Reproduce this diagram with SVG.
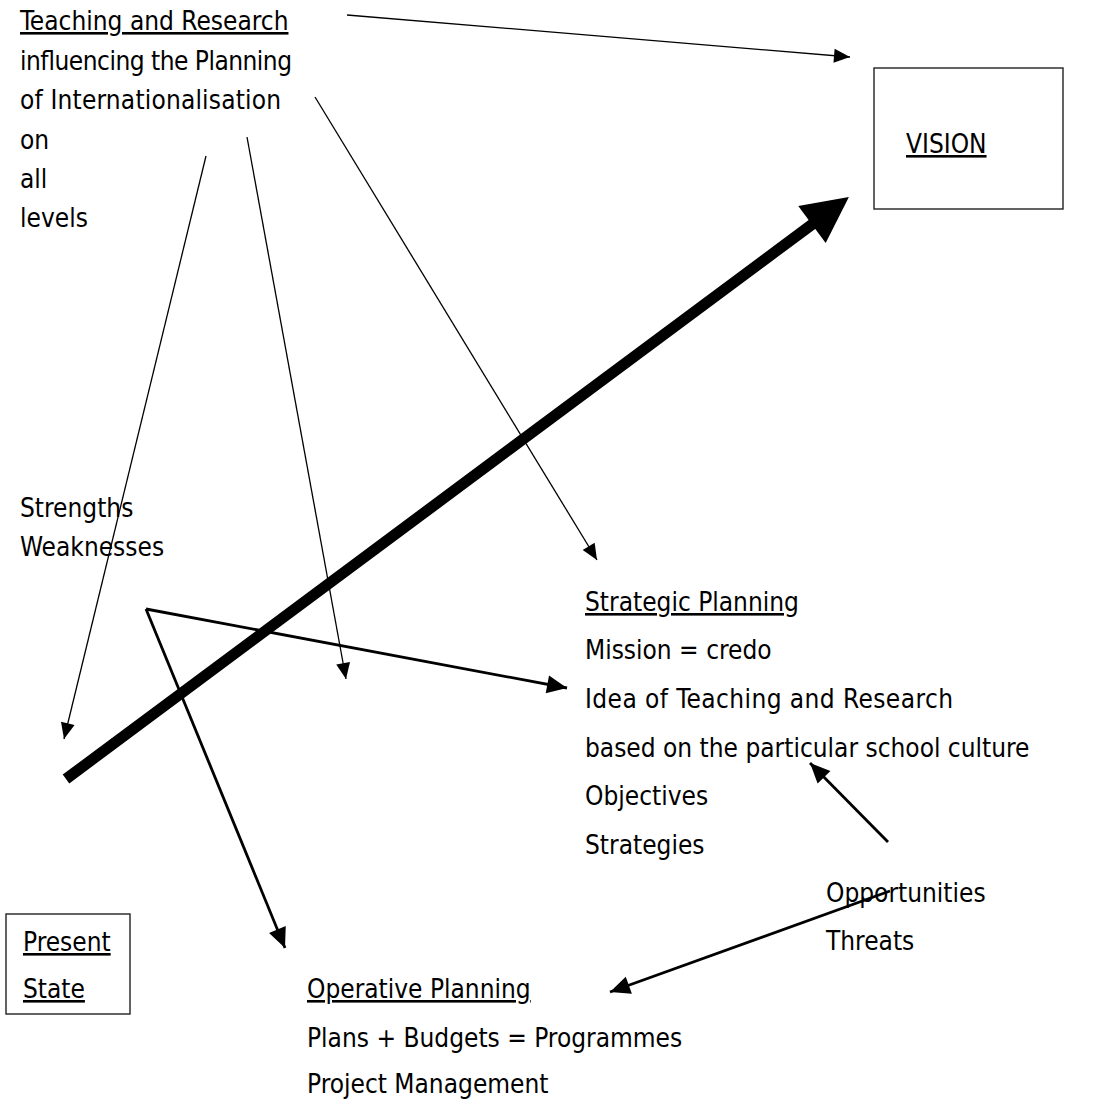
<svg xmlns="http://www.w3.org/2000/svg" width="1099" height="1103" viewBox="0 0 1099 1103">
  <style>
    text { font-family: "DejaVu Sans Condensed", "DejaVu Sans", sans-serif; font-stretch: condensed; font-size: 26px; fill: #000; }
    .u { text-decoration: underline; }
    .box { fill: #fff; stroke: #222; stroke-width: 1.4; }
    .thin { fill: none; stroke: #000; stroke-width: 1.3; marker-end: url(#headThin); }
    .mid { fill: none; stroke: #000; stroke-width: 2.8; marker-end: url(#headMid); }
    .thick { fill: none; stroke: #000; stroke-width: 11; marker-end: url(#headThick); }
  </style>
  <defs>
    <marker id="headThin" markerUnits="userSpaceOnUse" orient="auto" markerWidth="20" markerHeight="16" refX="16" refY="7" overflow="visible">
      <path d="M0,0 L16,7 L0,14 z" fill="#000"/>
    </marker>
    <marker id="headMid" markerUnits="userSpaceOnUse" orient="auto" markerWidth="24" markerHeight="20" refX="20" refY="9" overflow="visible">
      <path d="M0,0 L20,9 L0,18 z" fill="#000"/>
    </marker>
    <marker id="headThick" markerUnits="userSpaceOnUse" orient="auto" markerWidth="50" markerHeight="50" refX="10" refY="23" overflow="visible">
      <path d="M0,0 L46,23 L0,46 z" fill="#000"/>
    </marker>
  </defs>

  <rect width="1099" height="1103" fill="#fff"/>

  <!-- connectors -->
  <g id="connectors">
    <line class="thin" x1="347" y1="15" x2="850" y2="57"/>
    <line class="thin" x1="315" y1="97" x2="597" y2="560"/>
    <line class="thin" x1="247" y1="137" x2="346" y2="679"/>
    <line class="thin" x1="206" y1="156" x2="64" y2="739"/>
    <line class="thick" x1="66" y1="779" x2="820" y2="218.5"/>
    <line class="mid" x1="146" y1="609" x2="567" y2="688"/>
    <line class="mid" x1="146" y1="609" x2="285" y2="948"/>
    <line class="mid" x1="888" y1="842" x2="810" y2="763"/>
    <line class="mid" x1="890" y1="891" x2="610" y2="992"/>
  </g>

  <!-- influence of teaching and research -->
  <g id="teaching-research">
    <text x="20" y="30" class="u">Teaching and Research</text>
    <text x="20" y="69.5" textLength="272">influencing the Planning</text>
    <text x="20" y="109" textLength="261">of Internationalisation</text>
    <text x="20" y="148.5">on</text>
    <text x="20" y="188">all</text>
    <text x="20" y="227">levels</text>
  </g>

  <!-- vision -->
  <g id="vision">
    <rect class="box" x="874" y="68" width="189" height="141"/>
    <text x="906" y="153" class="u">VISION</text>
  </g>

  <!-- internal analysis -->
  <g id="strengths-weaknesses">
    <text x="20" y="517">Strengths</text>
    <text x="20" y="556">Weaknesses</text>
  </g>

  <!-- strategic level -->
  <g id="strategic-planning">
    <text x="585" y="611" class="u">Strategic Planning</text>
    <text x="585" y="659">Mission = credo</text>
    <text x="585" y="708" textLength="368">Idea of Teaching and Research</text>
    <text x="585" y="757">based on the particular school culture</text>
    <text x="585" y="805">Objectives</text>
    <text x="585" y="854">Strategies</text>
  </g>

  <!-- external analysis -->
  <g id="opportunities-threats">
    <text x="826" y="902">Opportunities</text>
    <text x="826" y="950">Threats</text>
  </g>

  <!-- starting point -->
  <g id="present-state">
    <rect class="box" x="6" y="914" width="124" height="100"/>
    <text x="23" y="951" class="u">Present</text>
    <text x="23" y="998" class="u">State</text>
  </g>

  <!-- operative level -->
  <g id="operative-planning">
    <text x="307" y="998" class="u">Operative Planning</text>
    <text x="307" y="1047">Plans + Budgets = Programmes</text>
    <text x="307" y="1093">Project Management</text>
  </g>
</svg>
